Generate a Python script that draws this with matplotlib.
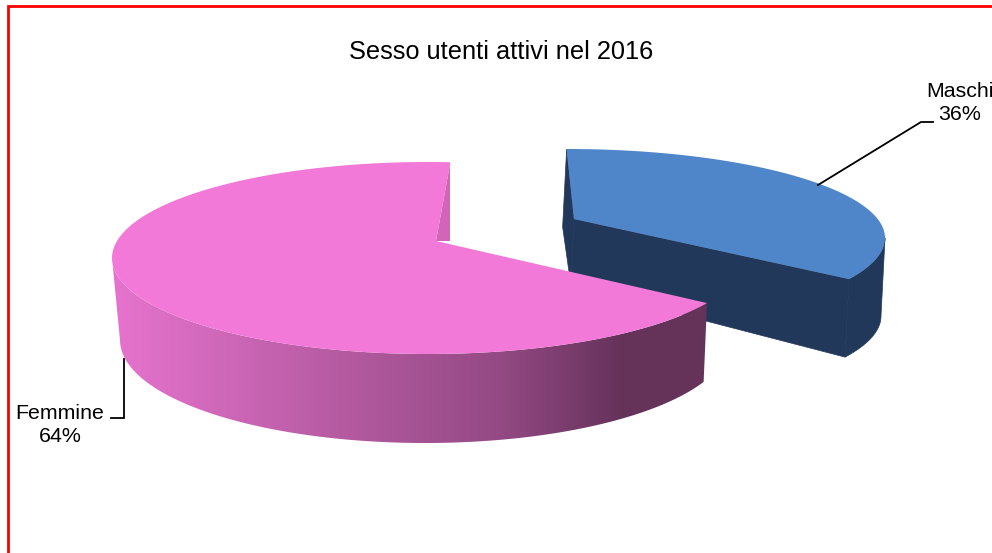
import numpy as np
import matplotlib
matplotlib.use("Agg")
import matplotlib.pyplot as plt
from matplotlib.patches import Polygon

plt.rcParams['font.family'] = ['Liberation Sans', 'DejaVu Sans']

title = "Sesso utenti attivi nel 2016"
labels = ["Maschi", "Femmine"]
values = [36, 64]


def arc(ell, t):
    cx, cy, rx, ry = ell
    return np.column_stack([cx + rx * np.cos(t), cy - ry * np.sin(t)])


total = sum(values)
sweeps = [2 * np.pi * v / total for v in values]

# perspective stretches the two slices a bit differently on the ellipse
split_t = np.radians(-28)
gain_m = 0.911
gain_f = 1.068
m_split = np.radians(-27.5)
m_start = split_t + sweeps[0] * gain_m
f_stop = split_t - sweeps[1] * gain_f

# ellipses (cx, cy, rx, ry), top and bottom face of each slice
f_top = (428, 258, 316, 96)
f_low = (425, 340, 305, 103)
m_top = (567, 238, 318, 89)
m_low = (563, 316, 318, 89)

fig = plt.figure(figsize=(9.92, 5.53), dpi=100)
ax = fig.add_axes([0, 0, 1, 1])
ax.set_xlim(0, 992)
ax.set_ylim(553, 0)
ax.axis("off")

# frame, only left and top are inside the picture
ax.plot([8.2, 8.2, 992], [553, 5.5, 5.5], color="#ff0000", lw=2.0, solid_joinstyle="miter")

# Maschi
navy = "#22385a"
blue = "#4f86c9"
side_t = np.linspace(m_split, 0.0, 40)
ax.fill(*np.vstack([arc(m_top, side_t), arc(m_low, side_t)[::-1]]).T, color=navy, lw=0.5, zorder=2)
apex_t = np.array([574, 219])
apex_l = np.array([571, 286])
end_t = arc(m_top, np.array([m_split]))[0]
end_l = arc(m_low, np.array([m_split]))[0]
beg_t = arc(m_top, np.array([m_start]))[0]
beg_l = arc(m_low, np.array([m_start]))[0]
beg_l[1] = 227
ax.fill(*np.array([apex_t, end_t, end_l, apex_l]).T, color=navy, lw=0.5, zorder=2)
ax.fill(*np.array([beg_t, apex_t, apex_l, beg_l]).T, color=navy, lw=0.5, zorder=2)
t_m = np.linspace(m_start, m_split, 120)
ax.fill(*np.vstack([apex_t, arc(m_top, t_m)]).T, color=blue, lw=0, zorder=3)

# Femmine, outer wall: gradient in x, clipped to the wall outline
pink = np.array([242, 121, 216]) / 255
low_split = np.radians(-24)
t_wall = np.linspace(0, 1, 200)
ft = arc(f_top, split_t + t_wall * (np.radians(-180) - split_t))
fl = arc(f_low, low_split + t_wall * (np.radians(-180) - low_split))
wall = Polygon(np.vstack([ft, fl[::-1]]), closed=True, transform=ax.transData)
grad_x = np.arange(100, 720)
shade = np.interp(grad_x, [115, 260, 500, 620], [0.95, 0.82, 0.61, 0.42])
grad = (shade[:, None] * pink)[None, :, :]
im = ax.imshow(grad, extent=(100, 720, 460, 240), aspect="auto", interpolation="nearest", zorder=4)
im.set_clip_path(wall)
ax.set_xlim(0, 992)
ax.set_ylim(553, 0)

# inner cut face behind the top
f_apex = np.array([436, 241])
f_beg = arc(f_top, np.array([f_stop]))[0]
ax.fill([f_beg[0], f_beg[0], f_apex[0]], [f_beg[1] + 2, f_apex[1], f_apex[1]], color="#d265ba", lw=0, zorder=4)
t_f = np.linspace(split_t, f_stop, 300)
ax.fill(*np.vstack([f_apex, arc(f_top, t_f)]).T, color=pink, lw=0, zorder=5)

# leader lines
ax.plot([818, 921, 933], [185, 122, 122], color="black", lw=1.3, zorder=6, solid_joinstyle="miter")
ax.plot([124, 124, 111], [359, 418, 418], color="black", lw=1.3, zorder=6, solid_joinstyle="miter")

# texts
ax.text(501, 52, title, ha="center", va="center", fontsize=18.3, color="black")
ax.text(960, 103, f"{labels[0]}\n{round(values[0] / total * 100)}%", ha="center", va="center",
        fontsize=15.4, linespacing=1.3, clip_on=True)
ax.text(60, 425, f"{labels[1]}\n{round(values[1] / total * 100)}%", ha="center", va="center",
        fontsize=15.4, linespacing=1.3)

fig.savefig("out.png", dpi=100)
